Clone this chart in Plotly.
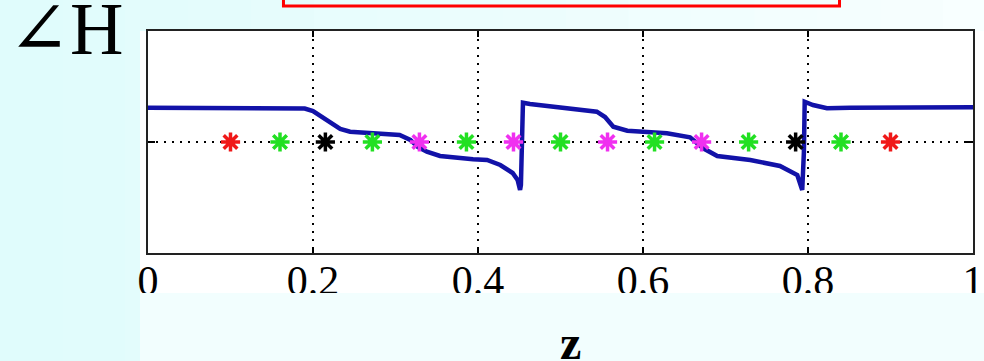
import plotly.graph_objects as go

# ---- data ----
z_curve = [0.0, 0.181, 0.190, 0.200, 0.211, 0.221, 0.233, 0.245, 0.269, 0.305, 0.318, 0.327,
           0.338, 0.354, 0.394, 0.411, 0.427, 0.442, 0.448, 0.451, 0.452, 0.453, 0.4545,
           0.463, 0.491, 0.527, 0.544, 0.554, 0.564, 0.581, 0.629, 0.657, 0.665, 0.673,
           0.690, 0.730, 0.766, 0.787, 0.793, 0.795, 0.796, 0.806, 0.823, 0.851, 1.0]
phase_curve = [0.971, 0.971, 0.948, 0.877, 0.708, 0.538, 0.368, 0.292, 0.263, 0.198, 0.057, -0.142,
               -0.275, -0.396, -0.490, -0.509, -0.651, -0.877, -1.075, -1.358, -1.217, 0.30, 1.112,
               1.075, 0.999, 0.925, 0.857, 0.708, 0.433, 0.320, 0.246, 0.133, -0.028, -0.178,
               -0.396, -0.509, -0.679, -0.934, -1.358, -0.30, 1.140, 1.047, 0.954, 0.971, 0.982]

marker_z = [0.100, 0.160, 0.215, 0.272, 0.329, 0.386, 0.443, 0.500,
            0.557, 0.614, 0.671, 0.728, 0.785, 0.840, 0.900]
marker_phase = [0.0] * len(marker_z)
marker_colors = ["#F01818", "#22E022", "#000000", "#22E022", "#F030F0", "#22E022", "#F030F0", "#22E022",
                 "#F030F0", "#22E022", "#F030F0", "#22E022", "#000000", "#22E022", "#F01818"]

x_ticks = [0, 0.2, 0.4, 0.6, 0.8, 1]
x_tick_text = ["0", "0.2", "0.4", "0.6", "0.8", "1"]

PI = 3.14159265

fig = go.Figure()
fig.add_trace(go.Scatter(x=z_curve, y=phase_curve, mode="lines",
                         line=dict(color="#1212A8", width=4.5), showlegend=False))
fig.add_trace(go.Scatter(x=marker_z, y=marker_phase, mode="markers",
                         marker=dict(symbol="asterisk-open", size=16, color=marker_colors,
                                     line=dict(color=marker_colors, width=3.5)),
                         showlegend=False))

# background gradient bands (decoration)
shapes = []
nb = 16
for i in range(nb):
    t = i / (nb - 1)
    r = int(0xE0 + (0xF8 - 0xE0) * t)
    col = "#%02X%02X%02X" % (r, 0xFC + int(3 * t), 0xFC + int(3 * t))
    shapes.append(dict(type="rect", xref="paper", yref="paper",
                       x0=-0.18 + i * (1.22 / nb), x1=-0.18 + (i + 1) * (1.22 / nb) + 0.002,
                       y0=-0.49, y1=1.14, fillcolor=col, line=dict(width=0), layer="below"))
# white figure area
shapes.append(dict(type="rect", xref="paper", yref="paper", x0=-0.0097, x1=1.02,
                   y0=-0.18, y1=1.0, fillcolor="white", line=dict(width=0), layer="below"))
# clipping strip below the tick labels
shapes.append(dict(type="rect", xref="paper", yref="paper", x0=-0.0097, x1=1.02,
                   y0=-0.49, y1=-0.18, fillcolor="#F2FEFE", line=dict(width=0), layer="above"))
# red frame at top
shapes.append(dict(type="rect", xref="paper", yref="paper", x0=0.1642, x1=0.8382,
                   y0=1.113, y1=1.25, fillcolor="rgba(0,0,0,0)",
                   line=dict(color="#FF0000", width=3), layer="above"))

fig.update_layout(
    width=984, height=361,
    margin=dict(l=148, r=11, t=31, b=108),
    paper_bgcolor="#EEFDFD", plot_bgcolor="white",
    shapes=shapes,
    xaxis=dict(range=[0, 1], tickvals=x_ticks, ticktext=x_tick_text, automargin=False,
               ticks="inside", ticklen=6, tickwidth=1.5, tickcolor="black",
               showline=True, linecolor="#222222", linewidth=1.5, mirror="ticks",
               showgrid=True, gridcolor="black", gridwidth=1.5, griddash="2px,6px",
               zeroline=False,
               tickfont=dict(family="Liberation Serif, Times New Roman, serif", size=42, color="black"),
               ticklabelstandoff=-10),
    yaxis=dict(range=[-PI, PI], tickvals=[0], showticklabels=False, automargin=False,
               ticks="inside", ticklen=7, tickwidth=1.5, tickcolor="black",
               showline=True, linecolor="#222222", linewidth=1.5, mirror="ticks",
               showgrid=True, gridcolor="black", gridwidth=1.5, griddash="2px,6px",
               zeroline=False),
    annotations=[
        dict(text="∠H", xref="paper", yref="paper", x=-0.172, y=1.2027,
             xanchor="left", yanchor="top", showarrow=False,
             font=dict(family="Liberation Serif, Times New Roman, DejaVu Serif, serif", size=74, color="black")),
        dict(text="<b>z</b>", xref="paper", yref="paper", x=(570 - 148) / 825, y=(253 - 342) / 222,
             xanchor="center", yanchor="middle", showarrow=False,
             font=dict(family="Liberation Serif, Times New Roman, serif", size=48, color="black")),
    ],
)

fig.write_html("out.html")
